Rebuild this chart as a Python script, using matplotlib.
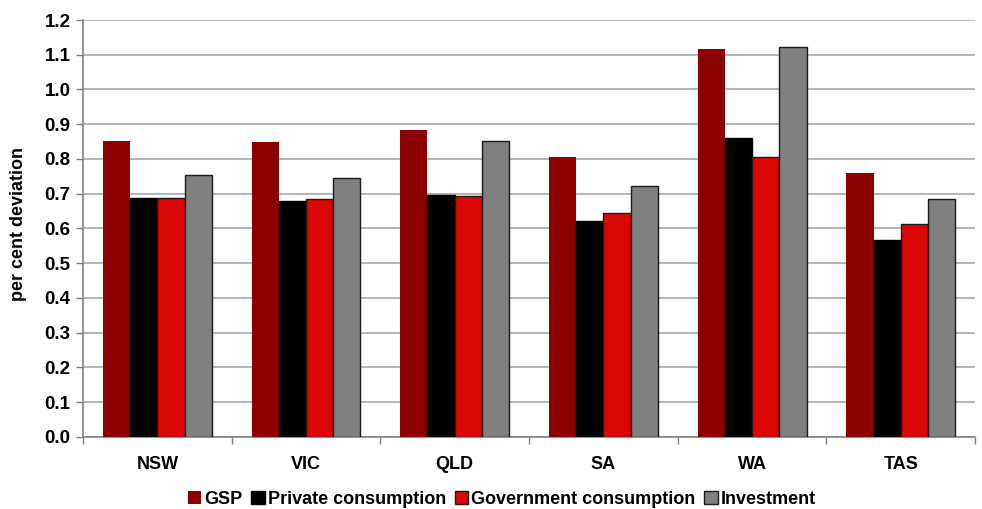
import numpy as np
import matplotlib
matplotlib.use("Agg")
import matplotlib.pyplot as plt

states = ["NSW", "VIC", "QLD", "SA", "WA", "TAS"]
gsp = [0.852, 0.849, 0.883, 0.806, 1.117, 0.760]
private_cons = [0.687, 0.679, 0.695, 0.621, 0.860, 0.567]
govt_cons = [0.689, 0.684, 0.693, 0.645, 0.805, 0.614]
investment = [0.753, 0.745, 0.851, 0.722, 1.123, 0.685]

series = [
    ("GSP", gsp, "#8c0000", "none"),
    ("Private consumption", private_cons, "#000000", "#000000"),
    ("Government consumption", govt_cons, "#dd0606", "#1a1a1a"),
    ("Investment", investment, "#808080", "#1a1a1a"),
]

plt.rcParams["font.family"] = ["Liberation Sans", "DejaVu Sans"]
plt.rcParams["font.weight"] = "bold"

fig = plt.figure(figsize=(9.82, 5.09), dpi=100)
ax = fig.add_axes([0.0845, 0.1415, 0.9085, 0.8192])

x = np.arange(len(states))
w = 0.183
for i, (name, vals, col, ec) in enumerate(series):
    ax.bar(x + (i - 1.5) * w, vals, w, color=col, edgecolor=ec,
           linewidth=1.0, label=name, zorder=3)

ax.set_xlim(-0.5, len(states) - 0.5)
ax.set_ylim(0, 1.2)
ax.set_yticks(np.arange(0, 1.21, 0.1))
ax.set_yticklabels(["%.1f" % v for v in np.arange(0, 1.21, 0.1)])
ax.set_xticks(x)
ax.set_xticklabels(states)
ax.set_xticks(np.arange(-0.5, len(states), 1), minor=True)
ax.tick_params(axis="x", which="major", length=0, pad=14, labelsize=13)
ax.tick_params(axis="x", which="minor", length=5, color="#808080", width=1)
ax.tick_params(axis="y", length=5, color="#808080", width=1, labelsize=13.5, pad=4)

ax.grid(axis="y", color="#a8a8a8", linewidth=1.2, zorder=0)
for s in ["top", "right"]:
    ax.spines[s].set_visible(False)
for s in ["left", "bottom"]:
    ax.spines[s].set_color("#808080")
    ax.spines[s].set_linewidth(1.2)

ax.set_ylabel("per cent deviation", fontsize=13, fontweight="bold")
ax.yaxis.set_label_coords(-0.063, 0.51)

fig.legend(loc="center", bbox_to_anchor=(0.511, 0.0196), ncol=4, frameon=False,
           fontsize=13, handlelength=0.75, handleheight=0.75, handletextpad=0.15,
           columnspacing=0.5, borderaxespad=0)

fig.savefig("out.png", dpi=100)
